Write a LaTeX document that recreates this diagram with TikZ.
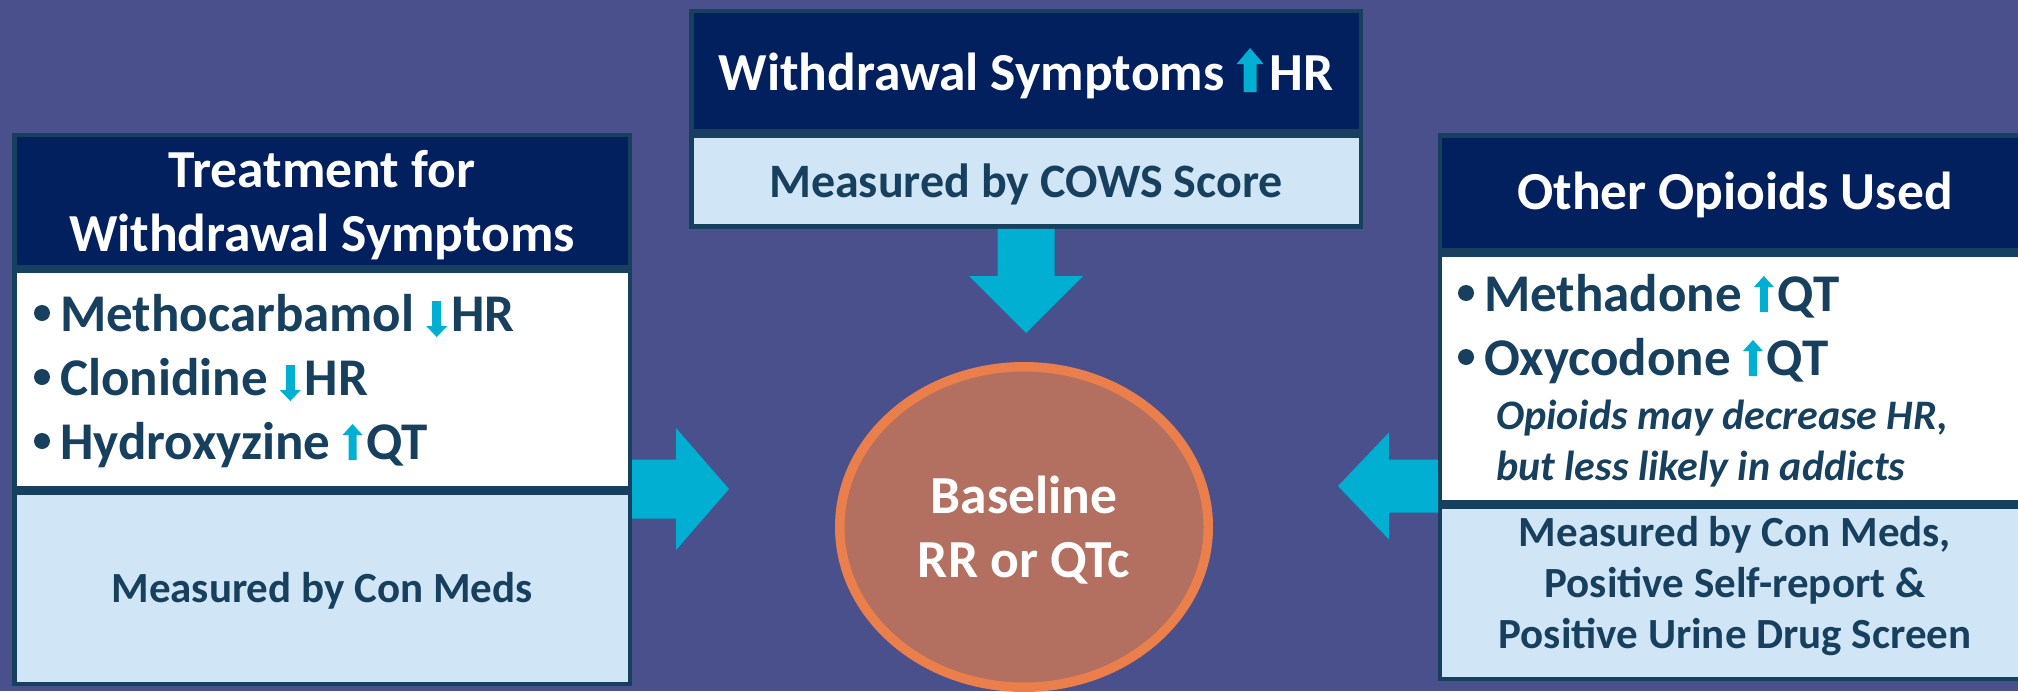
\documentclass[tikz,border=0pt]{standalone}
\usepackage{fontspec}
\setmainfont{Carlito}
\usetikzlibrary{shapes.geometric}

\definecolor{bg}{RGB}{74,80,140}
\definecolor{navy}{RGB}{2,31,94}
\definecolor{edge}{RGB}{23,64,94}
\definecolor{pale}{RGB}{208,230,246}
\definecolor{aqua}{RGB}{0,175,209}
\definecolor{ink}{RGB}{23,63,94}
\definecolor{clay}{RGB}{179,111,95}
\definecolor{ember}{RGB}{235,127,75}

\newcommand\fsz[1]{\fontsize{#1}{#1}\selectfont}
% small block-arrow glyphs used inside the text lines
\newcommand\dnglyph{\tikz[x=1pt,y=1pt,baseline=0pt]\fill[aqua] (-4.5,30) -- (4.5,30) -- (4.5,5) -- (10.5,5) -- (0,-6) -- (-10.5,5) -- (-4.5,5) -- cycle;}
\newcommand\upglyph{\tikz[x=1pt,y=1pt,baseline=0pt]\fill[aqua] (-4,-1) -- (4,-1) -- (4,24) -- (10,24) -- (0,35) -- (-10,24) -- (-4,24) -- cycle;}
\newcommand\bigupglyph{\tikz[x=1pt,y=1pt,baseline=0pt]\fill[aqua] (-6.5,-2) -- (6.5,-2) -- (6.5,26) -- (13.5,26) -- (0,42) -- (-13.5,26) -- (-6.5,26) -- cycle;}

\tikzset{
  panel/.style={draw=edge, line width=4.5pt, inner sep=0pt},
  headcell/.style={panel, fill=navy},
  bodycell/.style={panel, fill=white},
  notecell/.style={panel, fill=pale},
  headtext/.style={text=white, font=\bfseries\fsz{53.5}, inner sep=0pt, anchor=base},
  itemtext/.style={text=ink, font=\bfseries\fsz{53}, inner sep=0pt, anchor=base west},
  bullet/.style={circle, fill=ink, minimum size=16pt, inner sep=0pt},
  measuretext/.style={text=ink, font=\bfseries\fsz{43}, inner sep=0pt, anchor=base},
  asidetext/.style={text=ink, font=\bfseries\itshape\fsz{42}, inner sep=0pt, anchor=base west},
  feed/.style={fill=aqua},
}

\begin{document}
\begin{tikzpicture}[x=1pt,y=-1pt]
\useasboundingbox (0,0) rectangle (2018,691);
\clip (0,0) rectangle (2018,691);
\fill[bg] (0,0) rectangle (2018,691);

% left panel: treatment
\node[headcell, minimum width=615.5pt, minimum height=131.75pt] (lh) at (322,201.1) {};
\node[bodycell, minimum width=615.5pt, minimum height=217.5pt] (lb) at (322,379.75) {};
\node[notecell, minimum width=615.5pt, minimum height=191.5pt] (lm) at (322,588.25) {};

% top panel: withdrawal symptoms
\node[headcell, minimum width=669.5pt, minimum height=119.75pt] (th) at (1026,71.1) {};
\node[notecell, minimum width=669.5pt, minimum height=91pt] (tm) at (1026,181) {};

% right panel: other opioids
\node[headcell, minimum width=589.75pt, minimum height=114.5pt] (rh) at (1735.1,192.5) {};
\node[bodycell, minimum width=589.75pt, minimum height=248pt] (rb) at (1735.1,378.5) {};
\node[notecell, minimum width=589.75pt, minimum height=172pt] (rm) at (1735.1,593) {};

% central measurement
\node[ellipse, draw=ember, fill=clay, line width=9.5pt, minimum width=368.5pt, minimum height=320.5pt, inner sep=0pt] (base) at (1024,527) {};
\node[headtext] (base1) at (1024,513) {Baseline};
\node[headtext] (base2) at (1024,577) {RR or QTc};

% block arrows feeding the baseline
\coordinate (dtip) at (1026,333);
\coordinate (ltip) at (729,489);
\coordinate (rtip) at (1338,486);
\fill[feed] (tm.south) ++(-28.5,0) -- ++(0,47.25) -- ++(-28.5,0) -- (dtip) -- ++(57,-57) -- ++(-28.5,0) -- ++(0,-47.25) -- cycle;
\fill[feed] (lb.east |- ltip) ++(0,-29.5) -- ++(44,0) -- ++(0,-31.5) -- (ltip) -- ++(-53,61) -- ++(0,-31.5) -- ++(-44,0) -- cycle;
\fill[feed] (rb.west |- rtip) ++(0,-26.5) -- ++(-49,0) -- ++(0,-27) -- (rtip) -- ++(51,53.5) -- ++(0,-27) -- ++(49,0) -- cycle;

% left panel texts
\node[headtext] (lh1) at (322,187) {Treatment for};
\node[headtext] (lh2) at (322,251) {Withdrawal Symptoms};
\node[bullet] (lbul1) at (42,313) {};
\node[bullet] (lbul2) at (42,377) {};
\node[bullet] (lbul3) at (42,441) {};
\node[itemtext] (li1) at (60,331) {Methocarbamol \dnglyph\hspace{4pt}HR};
\node[itemtext] (li2) at (60,395) {Clonidine \dnglyph\hspace{4pt}HR};
\node[itemtext] (li3) at (60,459) {Hydroxyzine \upglyph\hspace{4pt}QT};
\node[measuretext] (lm1) at (322,602) {Measured by Con Meds};

% top panel texts
\node[headtext] (th1) at (1026,90) {Withdrawal Symptoms \bigupglyph\hspace{6pt}HR};
\node[measuretext, font=\bfseries\fsz{48}] (tm1) at (1026,197) {Measured by COWS Score};

% right panel texts
\node[headtext] (rh1) at (1735,209) {Other Opioids Used};
\node[bullet] (rbul1) at (1466,293) {};
\node[bullet] (rbul2) at (1466,357) {};
\node[itemtext] (ri1) at (1484,311) {Methadone \upglyph\hspace{4pt}QT};
\node[itemtext] (ri2) at (1484,375) {Oxycodone \upglyph\hspace{4pt}QT};
\node[asidetext] (ra1) at (1496,429) {Opioids may decrease HR,};
\node[asidetext] (ra2) at (1496,480) {but less likely in addicts};
\node[measuretext] (rm1) at (1735,546) {Measured by Con Meds,};
\node[measuretext] (rm2) at (1735,597) {Positive Self-report \&};
\node[measuretext] (rm3) at (1735,648) {Positive Urine Drug Screen};
\end{tikzpicture}
\end{document}
